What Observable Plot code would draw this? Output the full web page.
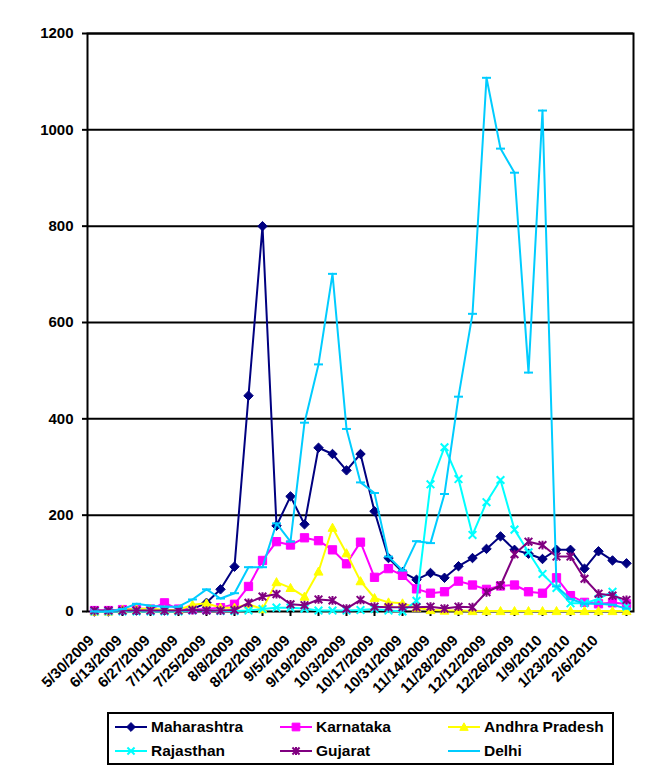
<!DOCTYPE html>
<html><head><meta charset="utf-8">
<script src="https://cdn.jsdelivr.net/npm/d3@7"></script>
<script src="https://cdn.jsdelivr.net/npm/@observablehq/plot@0.6"></script>
<style>
body{margin:0;background:#fff;font-family:"Liberation Sans",Arial,sans-serif;}
#chart{position:relative;width:665px;height:777px;}
#chart svg.plot{display:block}
#legend{position:absolute;left:107px;top:712px;width:503px;height:49px;border:2px solid #000;background:#fff}
.item{position:absolute;height:20px;display:flex;align-items:center;font-weight:bold;font-size:15.5px;color:#000;white-space:nowrap}
.item svg{margin-right:2px}
</style></head><body><div id="chart"></div>
<script>
const dates = ["5/30/2009","6/6/2009","6/13/2009","6/20/2009","6/27/2009","7/4/2009","7/11/2009","7/18/2009","7/25/2009","8/1/2009","8/8/2009","8/15/2009","8/22/2009","8/29/2009","9/5/2009","9/12/2009","9/19/2009","9/26/2009","10/3/2009","10/10/2009","10/17/2009","10/24/2009","10/31/2009","11/7/2009","11/14/2009","11/21/2009","11/28/2009","12/5/2009","12/12/2009","12/19/2009","12/26/2009","1/2/2010","1/9/2010","1/16/2010","1/23/2010","1/30/2010","2/6/2010","2/13/2010","2/20/2010"];
const tickLabels = ["5/30/2009","6/13/2009","6/27/2009","7/11/2009","7/25/2009","8/8/2009","8/22/2009","9/5/2009","9/19/2009","10/3/2009","10/17/2009","10/31/2009","11/14/2009","11/28/2009","12/12/2009","12/26/2009","1/9/2010","1/23/2010","2/6/2010"];
const yTicks = [0,200,400,600,800,1000,1200];

const maharashtra = [0,0,2,2,3,2,3,5,18,46,93,448,800,178,239,181,340,327,293,327,208,111,82,66,80,70,94,111,130,156,128,120,109,128,128,89,125,106,100];
const karnataka   = [2,2,4,6,5,18,5,4,5,8,15,52,106,145,138,153,147,128,99,144,71,89,75,47,38,41,63,55,46,53,55,41,38,70,33,19,16,18,16];
const andhra      = [0,0,4,5,6,3,3,14,17,8,8,15,5,61,49,31,83,174,121,63,28,19,17,8,3,2,2,1,1,1,1,1,1,1,1,1,1,1,1];
const rajasthan   = [0,0,0,0,0,0,0,2,2,1,1,2,5,8,8,6,2,2,2,3,5,2,0,22,264,341,275,159,227,273,170,123,78,49,17,17,26,41,10];
const gujarat     = [2,2,2,2,2,2,2,3,2,2,3,18,31,36,15,13,25,23,6,24,10,9,9,9,10,6,10,9,40,54,119,145,138,114,114,68,37,33,24];
const delhi       = [0,0,5,16,12,10,10,25,46,27,38,92,92,183,145,392,513,701,379,268,246,114,85,146,142,244,446,618,1108,961,911,496,1040,52,26,16,16,14,6];

const seriesNames  = ["Maharashtra","Karnataka","Andhra Pradesh","Rajasthan","Gujarat","Delhi"];
const seriesValues = [maharashtra,karnataka,andhra,rajasthan,gujarat,delhi];
const seriesColors = ["#000080","#FF00FF","#FFFF00","#00FFFF","#800080","#00CCFF"];

// marker shapes (d3-symbol-like objects)
const R = s => Math.sqrt(s/Math.PI);
const symbols = {
  diamond:{draw(c,s){const r=R(s)*1.05;c.moveTo(0,-r);c.lineTo(r,0);c.lineTo(0,r);c.lineTo(-r,0);c.closePath();}},
  square:{draw(c,s){const r=R(s)*0.92;c.moveTo(-r,-r);c.lineTo(r,-r);c.lineTo(r,r);c.lineTo(-r,r);c.closePath();}},
  triangle:{draw(c,s){const r=R(s);c.moveTo(0,-r);c.lineTo(r,r*0.8);c.lineTo(-r,r*0.8);c.closePath();}},
  times:{draw(c,s){const r=R(s)*0.85;c.moveTo(-r,-r);c.lineTo(r,r);c.moveTo(r,-r);c.lineTo(-r,r);}},
  asterisk:{draw(c,s){const r=R(s)*0.85;c.moveTo(-r,-r);c.lineTo(r,r);c.moveTo(r,-r);c.lineTo(-r,r);c.moveTo(0,-r*1.15);c.lineTo(0,r*1.15);}},
  dash:{draw(c,s){const r=R(s);c.moveTo(-r,0);c.lineTo(r,0);}}
};
const seriesSymbols = ["diamond","square","triangle","times","asterisk","dash"];
const filled = [true,true,true,false,false,false];

const table = [];
seriesValues.forEach((vals,k)=>vals.forEach((v,i)=>table.push({series:seriesNames[k], date:dates[i], value:v})));

const marks = [
  Plot.ruleY(yTicks.filter(d=>d>0), {stroke:"#000", strokeWidth:2}),
  Plot.frame({stroke:"#000", strokeWidth:2}),
  Plot.axisY({ticks:yTicks, tickSize:5, tickPadding:9, strokeWidth:2, fontSize:15, tickFormat:d=>String(d), label:null}),
  Plot.axisX({ticks:tickLabels.concat([dates[dates.length-1]]), tickSize:5, strokeWidth:2, tickFormat:()=>"", label:null}),
  Plot.text(tickLabels, {x:d=>d, frameAnchor:"bottom", rotate:-45, textAnchor:"end", lineAnchor:"middle", dx:-3, dy:26.5, fontSize:15, fontWeight:"bold", fill:"#000"})
];
seriesNames.forEach((name,k)=>{
  const d = table.filter(r=>r.series===name);
  marks.push(Plot.line(d,{x:"date", y:"value", stroke:seriesColors[k], strokeWidth:2}));
  marks.push(Plot.dot(d,{x:"date", y:"value", r:4.5, symbol:symbols[seriesSymbols[k]],
    fill: filled[k] ? seriesColors[k] : "none", stroke:seriesColors[k], strokeWidth: filled[k]?1:2}));
});

const chart = Plot.plot({
  width:665, height:705,
  marginTop:33, marginBottom:94, marginLeft:87, marginRight:32,
  style:{fontFamily:"'Liberation Sans', Arial, sans-serif", fontWeight:"bold", color:"#000", background:"#fff", overflow:"visible"},
  x:{type:"point", domain:dates, padding:0},
  y:{domain:[0,1200]},
  marks
});
const host = document.getElementById("chart");
host.appendChild(chart);

// legend
const legend = document.createElement("div");
legend.id = "legend";
const cols = [6,171,339], rows = [3,27];
seriesNames.forEach((name,k)=>{
  const it = document.createElement("div");
  it.className = "item";
  it.style.left = cols[k%3]+"px";
  it.style.top = rows[Math.floor(k/3)]+"px";
  const svg = d3.create("svg").attr("width",34).attr("height",14);
  svg.append("line").attr("x1",0).attr("x2",32).attr("y1",7).attr("y2",7).attr("stroke",seriesColors[k]).attr("stroke-width",2);
  const p = d3.path(); symbols[seriesSymbols[k]].draw(p, Math.PI*4.2*4.2);
  svg.append("path").attr("transform","translate(16,7)").attr("d",p.toString())
    .attr("fill",filled[k]?seriesColors[k]:"none").attr("stroke",seriesColors[k]).attr("stroke-width",filled[k]?1:2);
  it.appendChild(svg.node());
  const t = document.createElement("span"); t.textContent = name; it.appendChild(t);
  legend.appendChild(it);
});
host.appendChild(legend);
</script></body></html>
